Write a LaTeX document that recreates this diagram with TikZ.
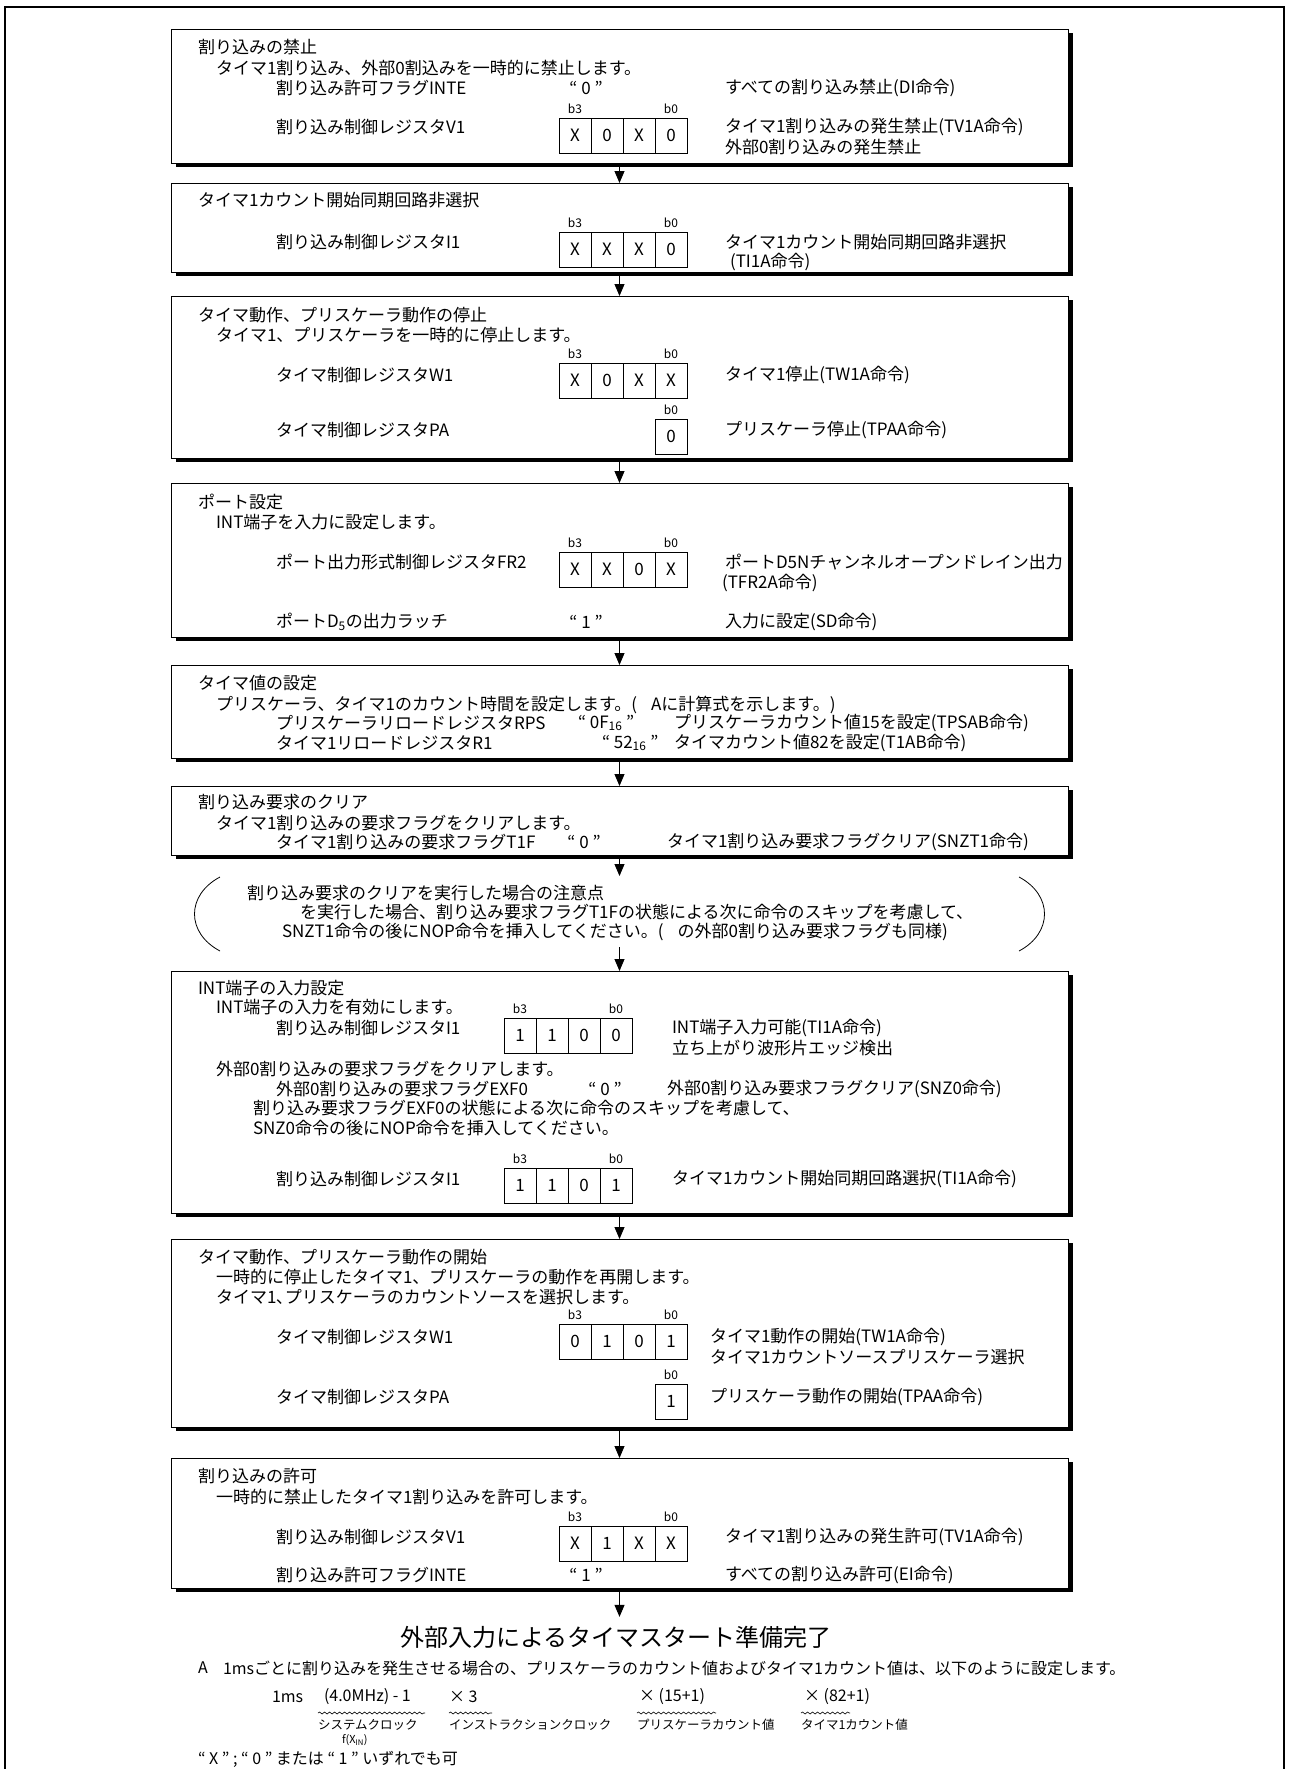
\documentclass[tikz,border=0pt]{standalone}
\usepackage{fontspec}
\setmainfont{Noto Sans CJK JP}
\usetikzlibrary{arrows.meta,shadows,decorations.pathmorphing,calc}
\newcommand\mainfs{\fontsize{17}{20}\selectfont}
\newcommand\notefs{\fontsize{16}{19}\selectfont}
\newcommand\cellfs{\fontsize{17}{20}\selectfont}
\newcommand\bitfs{\fontsize{12}{14}\selectfont}
\newcommand\regfour[6]{%
 \node[cell, anchor=north west] (#1a) at #2 {#3};
 \node[cell, anchor=west] (#1b) at (#1a.east) {#4};
 \node[cell, anchor=west] (#1c) at (#1b.east) {#5};
 \node[cell, anchor=west] (#1d) at (#1c.east) {#6};
 \node[bitl] (#1t) at (#1a.north) {b3};
 \node[bitl] (#1u) at (#1d.north) {b0};
}
\newcommand\regone[3]{%
 \node[cell, anchor=north west] (#1a) at #2 {#3};
 \node[bitl] (#1u) at (#1a.north) {b0};
}
\begin{document}
\begin{tikzpicture}[x=1pt,y=-1pt,
 every node/.style={inner sep=0pt, outer sep=0pt},
 flowbox/.style={draw, line width=0.9pt, fill=white, anchor=north west, minimum width=897pt,
   drop shadow={shadow xshift=5pt, shadow yshift=-4pt, opacity=1, fill=black}},
 tx/.style={anchor=west, font=\mainfs},
 ntx/.style={anchor=west, font=\notefs},
 qv/.style={font=\mainfs},
 cell/.style={draw, line width=0.9pt, minimum width=32pt, minimum height=35pt, font=\cellfs},
 bitl/.style={anchor=south, font=\bitfs, yshift=4pt},
 arr/.style={line width=0.9pt, -{Triangle[length=12pt,width=10pt]}},
 small/.style={anchor=west, font=\fontsize{12.5}{14}\selectfont},
 wav/.style={decorate, decoration={snake, amplitude=1pt, segment length=5pt}, line width=0.6pt}
]
\useasboundingbox (0,0) rectangle (1289,1769);
\fill[white] (0,0) rectangle (1289,1769);
\draw[line width=2.5pt] (5,1769) -- (5,7) -- (1284,7) -- (1284,1769);

% boxes
\node[flowbox, minimum height=134pt] (b1) at (171,29) {};
\node[flowbox, minimum height=89pt] (b2) at (171,183) {};
\node[flowbox, minimum height=162pt] (b3) at (171,296) {};
\node[flowbox, minimum height=154pt] (b4) at (171,483) {};
\node[flowbox, minimum height=93pt] (b5) at (171,665) {};
\node[flowbox, minimum height=69pt] (b6) at (171,786) {};
\node[minimum width=850pt, minimum height=71pt, anchor=north] (note) at (619.5,876) {};
\node[flowbox, minimum height=242pt] (b7) at (171,971) {};
\node[flowbox, minimum height=188pt] (b8) at (171,1239) {};
\node[flowbox, minimum height=130pt] (b9) at (171,1458) {};

% arrows
\draw[arr] (b1.south) -- (b2.north);
\draw[arr] (b2.south) -- (b3.north);
\draw[arr] (b3.south) -- (b4.north);
\draw[arr] (b4.south) -- (b5.north);
\draw[arr] (b5.south) -- (b6.north);
\draw[arr] (b6.south) -- (note.north);
\draw[arr] (note.south) -- (b7.north);
\draw[arr] (b7.south) -- (b8.north);
\draw[arr] (b8.south) -- (b9.north);

% B1
\node[tx] (b1t) at (198,47) {割り込みの禁止};
\node[tx] (b1s) at (216,68) {タイマ1割り込み、外部0割込みを一時的に禁止します。};
\node[tx] (b1l1) at (276,88) {割り込み許可フラグINTE};
\node[qv] (b1v1) at (586,88) {“ 0 ”};
\node[tx] (b1r1) at (725,88) {すべての割り込み禁止(DI命令)};
\regfour{b1g}{(559,118)}{X}{0}{X}{0}
\node[tx] (b1l2) at (276,127) {割り込み制御レジスタV1};
\node[tx] (b1r2) at (725,127) {タイマ1割り込みの発生禁止(TV1A命令)};
\node[tx] (b1r3) at (725,147) {外部0割り込みの発生禁止};

% B2
\node[tx] (b2t) at (198,200) {タイマ1カウント開始同期回路非選択};
\regfour{b2g}{(559,232)}{X}{X}{X}{0}
\node[tx] (b2l1) at (276,242) {割り込み制御レジスタI1};
\node[tx] (b2r1) at (725,242) {タイマ1カウント開始同期回路非選択};
\node[tx] (b2r2) at (730,262) {(TI1A命令)};

% B3
\node[tx] (b3t) at (198,315) {タイマ動作、プリスケーラ動作の停止};
\node[tx] (b3s) at (216,335) {タイマ1、プリスケーラを一時的に停止します。};
\regfour{b3g}{(559,363)}{X}{0}{X}{X}
\node[tx] (b3l1) at (276,375) {タイマ制御レジスタW1};
\node[tx] (b3r1) at (725,375) {タイマ1停止(TW1A命令)};
\regone{b3h}{(655,419)}{0}
\node[tx] (b3l2) at (276,430) {タイマ制御レジスタPA};
\node[tx] (b3r2) at (725,430) {プリスケーラ停止(TPAA命令)};

% B4
\node[tx] (b4t) at (198,502) {ポート設定};
\node[tx] (b4s) at (216,522) {INT端子を入力に設定します。};
\regfour{b4g}{(559,552)}{X}{X}{0}{X}
\node[tx] (b4l1) at (276,562) {ポート出力形式制御レジスタFR2};
\node[tx] (b4r1) at (725,562) {ポートD5Nチャンネルオープンドレイン出力};
\node[tx] (b4r2) at (722,583) {(TFR2A命令)};
\node[tx] (b4l2) at (276,622) {ポートD\textsubscript{5}の出力ラッチ};
\node[qv] (b4v2) at (586,622) {“ 1 ”};
\node[tx] (b4r3) at (725,622) {入力に設定(SD命令)};

% B5
\node[tx] (b5t) at (198,683) {タイマ値の設定};
\node[tx] (b5s) at (216,705) {プリスケーラ、タイマ1のカウント時間を設定します。(\hspace{14pt}Aに計算式を示します。)};
\node[tx] (b5l1) at (276,723) {プリスケーラリロードレジスタRPS};
\node[tx] (b5v1) at (578,723) {“ 0F\textsubscript{16} ”};
\node[tx] (b5r1) at (674,723) {プリスケーラカウント値15を設定(TPSAB命令)};
\node[tx] (b5l2) at (276,743) {タイマ1リロードレジスタR1};
\node[tx] (b5v2) at (602,743) {“ 52\textsubscript{16} ”};
\node[tx] (b5r2) at (674,743) {タイマカウント値82を設定(T1AB命令)};

% B6
\node[tx] (b6t) at (198,802) {割り込み要求のクリア};
\node[tx] (b6s) at (216,823) {タイマ1割り込みの要求フラグをクリアします。};
\node[tx] (b6l1) at (276,842) {タイマ1割り込みの要求フラグT1F};
\node[qv] (b6v1) at (584,842) {“ 0 ”};
\node[tx] (b6r1) at (667,842) {タイマ1割り込み要求フラグクリア(SNZT1命令)};

% note
\draw[line width=0.8pt] (220,877) .. controls (186,895) and (186,933) .. (220,951);
\draw[line width=0.8pt] (1019,877) .. controls (1053,895) and (1053,933) .. (1019,951);
\node[tx] (n1) at (247,893) {割り込み要求のクリアを実行した場合の注意点};
\node[tx] (n2) at (300,912) {を実行した場合、割り込み要求フラグT1Fの状態による次に命令のスキップを考慮して、};
\node[tx] (n3) at (282,932) {SNZT1命令の後にNOP命令を挿入してください。(\hspace{14pt}の外部0割り込み要求フラグも同様)};

% B7
\node[tx] (b7t) at (198,988) {INT端子の入力設定};
\node[tx] (b7s) at (216,1007) {INT端子の入力を有効にします。};
\regfour{b7g}{(504,1018)}{1}{1}{0}{0}
\node[tx] (b7l1) at (276,1028) {割り込み制御レジスタI1};
\node[tx] (b7r1) at (672,1028) {INT端子入力可能(TI1A命令)};
\node[tx] (b7r2) at (672,1048) {立ち上がり波形片エッジ検出};
\node[tx] (b7s2) at (216,1069) {外部0割り込みの要求フラグをクリアします。};
\node[tx] (b7l2) at (276,1089) {外部0割り込みの要求フラグEXF0};
\node[qv] (b7v2) at (605,1089) {“ 0 ”};
\node[tx] (b7r3) at (667,1089) {外部0割り込み要求フラグクリア(SNZ0命令)};
\node[tx] (b7m1) at (253,1108) {割り込み要求フラグEXF0の状態による次に命令のスキップを考慮して、};
\node[tx] (b7m2) at (253,1128) {SNZ0命令の後にNOP命令を挿入してください。};
\regfour{b7h}{(504,1168)}{1}{1}{0}{1}
\node[tx] (b7l3) at (276,1179) {割り込み制御レジスタI1};
\node[tx] (b7r4) at (672,1179) {タイマ1カウント開始同期回路選択(TI1A命令)};

% B8
\node[tx] (b8t) at (198,1257) {タイマ動作、プリスケーラ動作の開始};
\node[tx] (b8s) at (216,1277) {一時的に停止したタイマ1、プリスケーラの動作を再開します。};
\node[tx] (b8s2) at (216,1297) {タイマ1､プリスケーラのカウントソースを選択します。};
\regfour{b8g}{(559,1324)}{0}{1}{0}{1}
\node[tx] (b8l1) at (276,1337) {タイマ制御レジスタW1};
\node[tx] (b8r1) at (710,1337) {タイマ1動作の開始(TW1A命令)};
\node[tx] (b8r2) at (710,1357) {タイマ1カウントソースプリスケーラ選択};
\regone{b8h}{(655,1384)}{1}
\node[tx] (b8l2) at (276,1397) {タイマ制御レジスタPA};
\node[tx] (b8r3) at (710,1397) {プリスケーラ動作の開始(TPAA命令)};

% B9
\node[tx] (b9t) at (198,1476) {割り込みの許可};
\node[tx] (b9s) at (216,1497) {一時的に禁止したタイマ1割り込みを許可します。};
\regfour{b9g}{(559,1526)}{X}{1}{X}{X}
\node[tx] (b9l1) at (276,1537) {割り込み制御レジスタV1};
\node[tx] (b9r1) at (725,1537) {タイマ1割り込みの発生許可(TV1A命令)};
\node[tx] (b9l2) at (276,1575) {割り込み許可フラグINTE};
\node[qv] (b9v2) at (586,1575) {“ 1 ”};
\node[tx] (b9r2) at (725,1575) {すべての割り込み許可(EI命令)};

% final
\node[font=\fontsize{24}{28}\selectfont, inner ysep=9pt] (fin) at (616,1637) {外部入力によるタイマスタート準備完了};
\draw[arr] (b9.south) -- (b9.south |- fin.north);

% notes
\node[ntx] (na) at (198,1668) {A};
\node[ntx] (nb) at (223,1668) {1msごとに割り込みを発生させる場合の、プリスケーラのカウント値およびタイマ1カウント値は、以下のように設定します。};
\node[ntx] (f1) at (272,1697) {1ms};
\node[ntx] (f2) at (324,1697) {(4.0MHz) - 1};
\node[ntx] (f3) at (449,1697) {× 3};
\node[ntx] (f4) at (639,1697) {× (15+1)};
\node[ntx] (f5) at (804,1697) {× (82+1)};
\draw[wav] (318,1713) -- (425,1713);
\draw[wav] (449,1713) -- (492,1713);
\draw[wav] (637,1713) -- (716,1713);
\draw[wav] (801,1713) -- (850,1713);
\node[small] (g1) at (318,1725) {システムクロック};
\node[small] (g2) at (449,1725) {インストラクションクロック};
\node[small] (g3) at (637,1725) {プリスケーラカウント値};
\node[small] (g4) at (801,1725) {タイマ1カウント値};
\node[anchor=west, font=\fontsize{11}{13}\selectfont] (g5) at (342,1740) {f(X\textsubscript{IN})};
\node[ntx] (xn) at (198,1759) {“ X ” ;  “ 0 ” または “ 1 ” いずれでも可};
\end{tikzpicture}
\end{document}
